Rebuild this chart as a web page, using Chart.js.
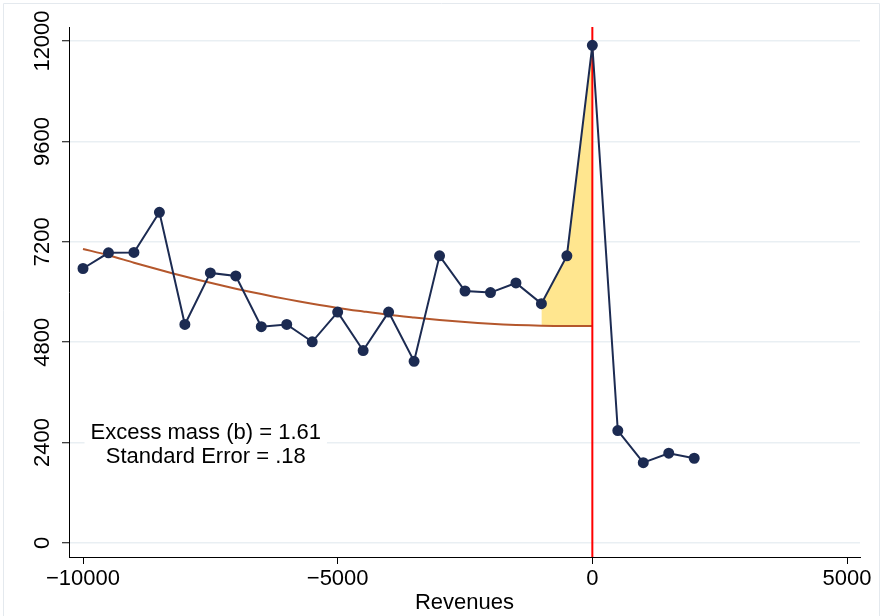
<!DOCTYPE html>
<html>
<head>
<meta charset="utf-8">
<script src="https://cdn.jsdelivr.net/npm/chart.js@4.4.1/dist/chart.umd.min.js"></script>
<style>
  html, body { margin: 0; padding: 0; background: #fff; }
  #wrap { position: relative; width: 883px; height: 616px; }
</style>
</head>
<body>
<div id="wrap"><canvas id="myChart" width="883" height="616"></canvas></div>
<script>
// -- bins (revenues relative to the threshold) and counts per bin --
const bins = [-10000, -9500, -9000, -8500, -8000, -7500, -7000, -6500, -6000, -5500,
  -5000, -4500, -4000, -3500, -3000, -2500, -2000, -1500, -1000, -500,
  0, 500, 1000, 1500, 2000];
const counts = [6562, 6936, 6946, 7906, 5225, 6456, 6384, 5170, 5225, 4810,
  5520, 4601, 5520, 4344, 6864, 6024, 5986, 6216, 5722, 6864,
  11897, 2688, 1920, 2146, 2026];

// counterfactual fit, bins -10000 .. 0
const fitted = [7030, 6880, 6700, 6530, 6370, 6220, 6080, 5950, 5830, 5720,
  5620, 5535, 5455, 5390, 5330, 5280, 5240, 5212, 5195, 5187, 5185];

const excessFrom = -1000;   // start of the bunching window
const threshold = 0;

const xTicks = [-10000, -5000, 0, 5000];
const yTicks = [0, 2400, 4800, 7200, 9600, 12000];
const xMin = -10275, xMax = 5255;
const yMin = -335, yMax = 12335;

const statsLines = ['Excess mass (b) = 1.61', 'Standard Error = .18'];
const statsPos = { x: -7590, y: [2633, 2057] };

const navy = '#1c2b52';
const brown = '#b4572c';
const fillYellow = '#ffe68f';
const fontSize = 22;

// -- build the datasets --
const obsPoints = bins.map((b, i) => ({ x: b, y: counts[i] }));
const fitPoints = fitted.map((v, i) => ({ x: bins[i], y: v }));
const winObs = obsPoints.filter(p => p.x >= excessFrom && p.x <= threshold);
const winFit = fitPoints.filter(p => p.x >= excessFrom && p.x <= threshold);

Chart.defaults.font.family = '"Liberation Sans", Arial, Helvetica, sans-serif';
Chart.defaults.color = '#000';

// light frame round the whole graph
const frame = {
  id: 'frame',
  beforeDraw(chart) {
    const ctx = chart.ctx;
    ctx.save();
    ctx.strokeStyle = '#e4e9ee';
    ctx.lineWidth = 1;
    ctx.beginPath();
    ctx.moveTo(3.5, 700);
    ctx.lineTo(3.5, 3.5);
    ctx.lineTo(879.5, 3.5);
    ctx.lineTo(879.5, 700);
    ctx.stroke();
    ctx.restore();
  }
};

// excess mass / standard error box
const statsBox = {
  id: 'statsBox',
  afterDatasetsDraw(chart) {
    const ctx = chart.ctx;
    const xs = chart.scales.x, ys = chart.scales.y;
    const cx = xs.getPixelForValue(statsPos.x);
    const y1 = ys.getPixelForValue(statsPos.y[0]);
    const y2 = ys.getPixelForValue(statsPos.y[1]);
    ctx.save();
    ctx.font = fontSize + 'px "Liberation Sans", Arial, sans-serif';
    const w = Math.max(...statsLines.map(t => ctx.measureText(t).width));
    ctx.fillStyle = '#fff';
    ctx.fillRect(cx - w / 2 - 6, y1 - 20, w + 12, (y2 - y1) + 40);
    ctx.fillStyle = '#000';
    ctx.textAlign = 'center';
    ctx.textBaseline = 'middle';
    ctx.fillText(statsLines[0], cx, y1);
    ctx.fillText(statsLines[1], cx, y2);
    ctx.restore();
  }
};

const config = {
  type: 'line',
  data: {
    datasets: [
      {
        label: 'counts',
        data: obsPoints,
        borderColor: navy,
        backgroundColor: navy,
        borderWidth: 2,
        pointRadius: 4.5,
        pointHoverRadius: 4.5,
        tension: 0,
        fill: false,
        order: 0
      },
      {
        label: 'threshold',
        data: [{ x: threshold, y: yMin }, { x: threshold, y: yMax }],
        borderColor: '#ff0000',
        borderWidth: 2,
        pointRadius: 0,
        fill: false,
        order: 1
      },
      {
        label: 'fit',
        data: fitPoints,
        borderColor: brown,
        borderWidth: 2,
        pointRadius: 0,
        tension: 0.3,
        fill: false,
        order: 2
      },
      {
        label: 'fit window',
        data: winFit,
        borderWidth: 0,
        borderColor: 'rgba(0,0,0,0)',
        pointRadius: 0,
        fill: false,
        order: 3
      },
      {
        label: 'excess',
        data: winObs,
        borderWidth: 0,
        borderColor: 'rgba(0,0,0,0)',
        backgroundColor: fillYellow,
        pointRadius: 0,
        fill: { target: 3 },
        order: 4
      }
    ]
  },
  options: {
    responsive: false,
    animation: false,
    events: [],
    layout: { padding: { top: 27, right: 23, left: 0, bottom: 0 } },
    plugins: {
      legend: { display: false },
      tooltip: { enabled: false }
    },
    scales: {
      x: {
        type: 'linear',
        min: xMin,
        max: xMax,
        afterBuildTicks: s => { s.ticks = xTicks.map(v => ({ value: v })); },
        afterFit: s => { s.height = 59; },
        ticks: {
          maxRotation: 0,
          autoSkip: false,
          padding: 2,
          font: { size: fontSize },
          callback: v => String(v).replace('-', '\u2212')
        },
        grid: { drawOnChartArea: false, tickLength: 7, tickColor: '#000', tickWidth: 1 },
        border: { display: true, color: '#000', width: 1 },
        title: { display: true, text: 'Revenues', font: { size: fontSize }, padding: { top: 0, bottom: 0 } }
      },
      y: {
        type: 'linear',
        min: yMin,
        max: yMax,
        afterBuildTicks: s => { s.ticks = yTicks.map(v => ({ value: v })); },
        afterFit: s => { s.width = 69; },
        ticks: {
          minRotation: 90,
          maxRotation: 90,
          crossAlign: 'center',
          autoSkip: false,
          padding: -12,
          font: { size: fontSize },
          callback: v => String(v)
        },
        grid: { color: '#e9eff3', lineWidth: 1.5, tickLength: 7, tickColor: '#000', tickWidth: 1 },
        border: { display: true, color: '#000', width: 1 }
      }
    }
  },
  plugins: [frame, statsBox]
};

const myChart = new Chart(document.getElementById('myChart'), config);
</script>
</body>
</html>
